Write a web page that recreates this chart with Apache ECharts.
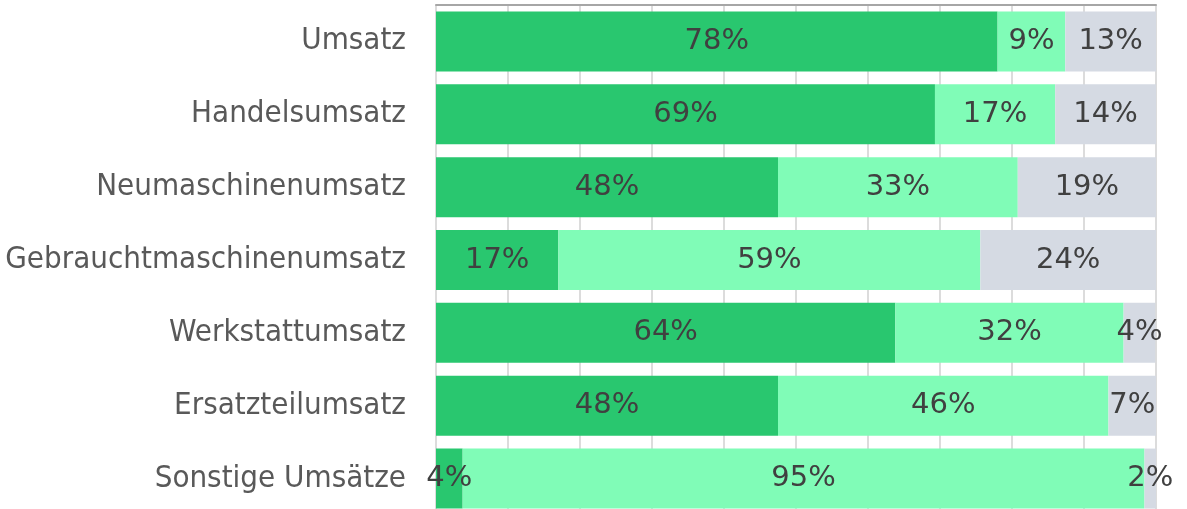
<!DOCTYPE html>
<html>
<head>
<meta charset="utf-8">
<script src="https://cdn.jsdelivr.net/npm/echarts@6/dist/echarts.min.js"></script>
<style>
  html, body { margin: 0; padding: 0; background: #fff; overflow: hidden; }
  /* the bottom row is cut off in the original, so the chart runs a bit past the window */
  #chart { width: 1187px; height: 515px; }
</style>
</head>
<body>
<div id="chart"></div>
<script>
const categories = [
  'Umsatz',
  'Handelsumsatz',
  'Neumaschinenumsatz',
  'Gebrauchtmaschinenumsatz',
  'Werkstattumsatz',
  'Ersatzteilumsatz',
  'Sonstige Umsätze'
]
// shares in percent
const darkShare = [78.0, 69.3, 47.5, 17.0, 63.8, 47.5, 3.7]
const lightShare = [9.4, 16.7, 33.3, 58.6, 31.7, 45.9, 94.7]
const greyShare = [12.6, 14.0, 19.2, 24.4, 4.4, 6.6, 1.6]

const COLORS = {
  dark: '#29c76f',
  light: '#80fcb7',
  grey: '#d5dae3'
}

const labelStyle = {
  show: true,
  position: 'inside',
  color: '#404040',
  fontSize: 29,
  fontFamily: 'DejaVu Sans',
  formatter: (p) => Math.round(p.value) + '%'
}

const makeSeries = (name, data, color) => ({
  name,
  type: 'bar',
  stack: 'total',
  data,
  barWidth: 60,
  itemStyle: { color },
  label: labelStyle,
  animation: false
})

const chart = echarts.init(document.getElementById('chart'), null, { renderer: 'canvas' })

chart.setOption({
  animation: false,
  grid: { left: 436, right: 31, top: 5, bottom: 0, containLabel: false },
  xAxis: {
    type: 'value',
    position: 'top',
    min: 0,
    max: 100,
    interval: 10,
    axisLabel: { show: false },
    axisTick: { show: false },
    axisLine: { show: true, lineStyle: { color: '#a6a6a6', width: 2 } },
    splitLine: { show: true, lineStyle: { color: '#dcdcdc', width: 2 } }
  },
  yAxis: {
    type: 'category',
    inverse: true,
    data: categories,
    axisLine: { show: false },
    axisTick: { show: false },
    axisLabel: {
      color: '#595959',
      fontSize: 31,
      fontFamily: "'DejaVu Sans Condensed', 'DejaVu Sans', sans-serif",
      margin: 30
    }
  },
  series: [
    makeSeries('dark', darkShare, COLORS.dark),
    makeSeries('light', lightShare, COLORS.light),
    makeSeries('grey', greyShare, COLORS.grey)
  ]
})
</script>
</body>
</html>
